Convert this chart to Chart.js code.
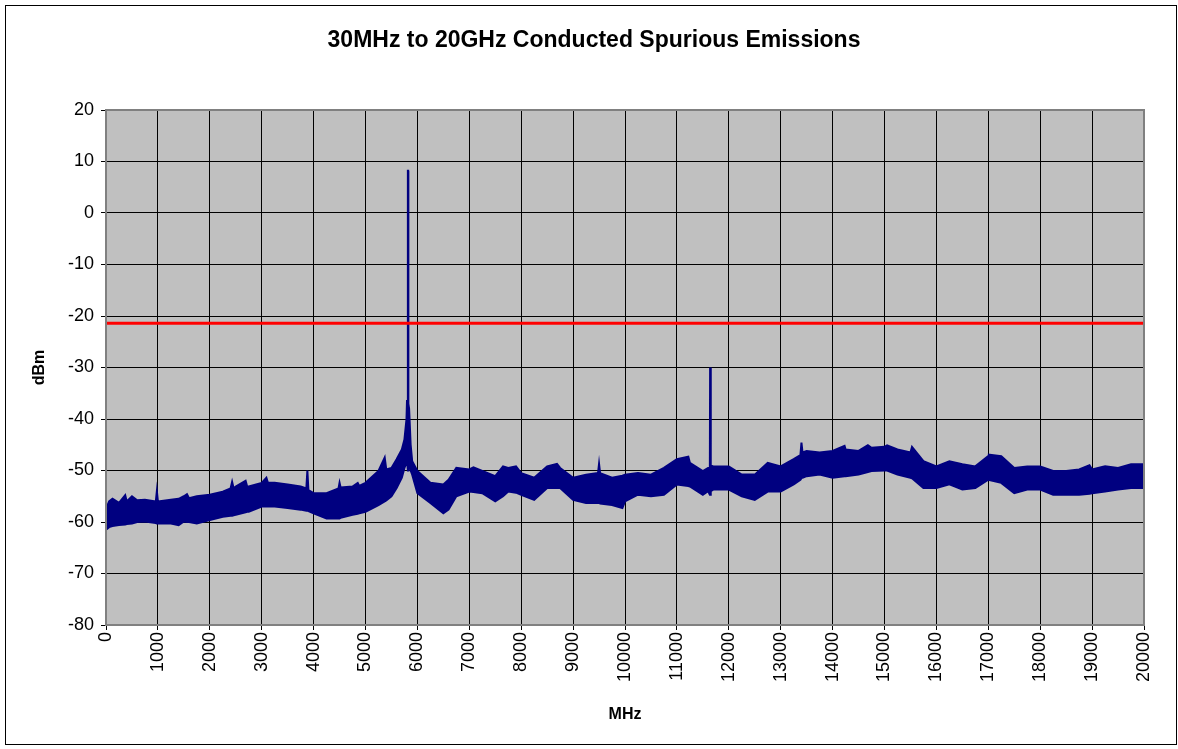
<!DOCTYPE html>
<html>
<head>
<meta charset="utf-8">
<script src="https://cdn.jsdelivr.net/npm/chart.js@4/dist/chart.umd.min.js"></script>
<style>
  html, body { margin: 0; padding: 0; background: #fff; }
  #wrap { width: 1178px; height: 749px; }
</style>
</head>
<body>
<div id="wrap"><canvas id="c" width="1178" height="749"></canvas></div>
<script>
// ---- data ----
const chartTitle = '30MHz to 20GHz Conducted Spurious Emissions';
const xTitle = 'MHz';
const yTitle = 'dBm';
const xTicks = [0,1000,2000,3000,4000,5000,6000,7000,8000,9000,10000,11000,12000,13000,14000,15000,16000,17000,18000,19000,20000];
const yTicks = [-80,-70,-60,-50,-40,-30,-20,-10,0,10,20];
const limitLevel = -21.4; // dBm, red limit line
const limitFreq = [0, 20000];

// trace envelope: frequency (MHz), upper and lower edge of the noisy trace (dBm)
const freqMHz = [0,60,125,250,370,400,500,600,750,960,980,1000,1250,1400,1500,1560,1600,1750,2000,2250,2400,2430,2460,2500,2690,2720,2750,3000,3090,3120,3250,3500,3750,3860,3880,3900,4000,4250,4480,4500,4520,4750,4850,4880,5000,5250,5370,5400,5500,5600,5700,5750,5790,5800,5815,5818,5822,5826,5840,5870,5900,6000,6250,6500,6600,6750,7000,7080,7250,7500,7650,7750,7900,8000,8250,8500,8690,8750,9000,9250,9480,9500,9520,9750,9950,10000,10250,10500,10750,11000,11220,11250,11500,11600,11635,11640,11650,11655,11700,12000,12250,12500,12750,13000,13250,13380,13400,13420,13500,13750,14000,14230,14250,14500,14680,14750,15000,15050,15250,15500,15530,15750,16000,16250,16500,16750,17000,17010,17250,17500,17750,18000,18250,18500,18750,18950,19000,19250,19500,19750,20000];
const traceUpper = [-57.5,-56.0,-55.5,-56.3,-54.8,-56.0,-55.0,-55.8,-55.7,-56.0,-54.0,-56.0,-55.7,-55.5,-55.0,-54.6,-55.4,-55.0,-54.7,-54.1,-53.5,-52.2,-53.5,-53.1,-52.0,-53.1,-53.1,-52.4,-51.4,-52.4,-52.4,-52.7,-53.1,-53.5,-50.0,-53.8,-54.4,-54.4,-53.5,-52.4,-53.3,-53.1,-52.4,-53.0,-52.4,-50.1,-47.5,-49.8,-49.5,-47.8,-45.9,-44.0,-40.0,-36.3,-37.5,8.2,8.2,-37.0,-38.0,-45.0,-48.2,-50.1,-52.4,-52.7,-51.8,-49.5,-49.8,-49.4,-50.1,-51.1,-49.2,-49.5,-49.2,-50.5,-51.4,-49.2,-48.7,-49.5,-51.4,-50.8,-50.5,-48.7,-50.5,-51.4,-51.0,-50.8,-50.5,-50.8,-49.5,-47.8,-47.3,-48.5,-50.1,-49.5,-49.5,-30.0,-30.0,-49.0,-49.2,-49.2,-50.8,-50.8,-48.5,-49.2,-47.8,-47.0,-44.6,-46.5,-46.2,-46.5,-46.2,-45.2,-45.9,-46.2,-45.1,-45.6,-45.4,-45.1,-45.9,-46.5,-45.4,-48.2,-49.2,-48.2,-48.8,-49.2,-47.2,-46.9,-47.2,-49.5,-49.2,-49.2,-50.1,-50.1,-49.8,-49.0,-49.8,-49.2,-49.5,-48.8,-48.8];
const traceLower = [-61.5,-61.0,-60.8,-60.6,-60.5,-60.4,-60.3,-60.0,-59.9,-60.2,-60.3,-60.3,-60.3,-60.6,-59.9,-60.0,-60.0,-60.3,-59.6,-59.0,-58.8,-58.8,-58.7,-58.6,-58.1,-58.0,-58.0,-57.0,-57.0,-57.0,-57.0,-57.3,-57.6,-57.8,-57.8,-57.9,-58.3,-59.3,-59.3,-59.3,-59.2,-58.6,-58.4,-58.3,-58.0,-56.7,-56.0,-55.8,-55.0,-53.4,-51.4,-49.5,-48.5,-48.0,-49.0,-50.0,-50.0,-49.5,-48.5,-50.0,-50.8,-54.4,-56.3,-58.3,-57.6,-55.0,-54.1,-54.2,-54.4,-56.0,-55.0,-54.1,-54.3,-54.7,-55.7,-53.4,-53.4,-53.4,-55.7,-56.3,-56.3,-56.3,-56.4,-56.7,-57.3,-56.0,-54.7,-55.0,-54.7,-52.7,-53.0,-53.1,-54.7,-54.0,-54.7,-54.7,-54.5,-54.0,-53.7,-53.7,-55.0,-55.7,-54.1,-54.1,-52.7,-51.8,-51.5,-51.4,-51.1,-50.8,-51.4,-51.1,-51.1,-50.8,-50.3,-50.1,-50.0,-50.0,-50.8,-51.4,-51.5,-53.4,-53.4,-52.7,-53.7,-53.4,-51.8,-51.8,-52.4,-54.4,-53.7,-53.7,-54.7,-54.7,-54.7,-54.5,-54.4,-54.1,-53.7,-53.4,-53.4];

// ---- build chart ----
const FONT = '"Liberation Sans", Arial, sans-serif';
const PLOT = { left: 106, right: 1144, top: 110, bottom: 625 };

const n = Math.min(freqMHz.length, traceUpper.length, traceLower.length);
const lowerPts = freqMHz.slice(0, n).map((f, i) => ({ x: f, y: traceLower[i] }));
const upperPts = freqMHz.slice(0, n).map((f, i) => ({ x: f, y: traceUpper[i] }));
const limitPts = limitFreq.map(f => ({ x: f, y: limitLevel }));

const framePlugin = {
  id: 'frame',
  beforeDraw(chart) {
    const { ctx, chartArea: a } = chart;
    ctx.save();
    ctx.fillStyle = '#ffffff';
    ctx.fillRect(0, 0, chart.width, chart.height);
    ctx.fillStyle = '#C0C0C0';
    ctx.fillRect(a.left, a.top, a.right - a.left, a.bottom - a.top);
    ctx.restore();
  },
  afterDraw(chart) {
    const { ctx, chartArea: a } = chart;
    ctx.save();
    ctx.strokeStyle = '#808080';
    ctx.lineWidth = 2;
    ctx.strokeRect(a.left, a.top, a.right - a.left, a.bottom - a.top);
    ctx.strokeStyle = '#000000';
    ctx.lineWidth = 1;
    ctx.strokeRect(5.5, 5.5, 1171, 739);
    ctx.fillStyle = '#000000';
    ctx.font = 'bold 23px ' + FONT;
    ctx.textAlign = 'center';
    ctx.textBaseline = 'middle';
    ctx.fillText(chartTitle, 594, 41);
    ctx.restore();
  }
};

new Chart(document.getElementById('c'), {
  type: 'line',
  data: {
    datasets: [
      { label: 'lower', data: lowerPts, borderColor: '#000080', borderWidth: 2, pointRadius: 0, fill: false, tension: 0, order: 2 },
      { label: 'upper', data: upperPts, borderColor: '#000080', borderWidth: 2, pointRadius: 0, fill: '-1', backgroundColor: '#000080', tension: 0, order: 2 },
      { label: 'limit', data: limitPts, borderColor: '#FF0000', borderWidth: 3, pointRadius: 0, fill: false, order: 1 }
    ]
  },
  options: {
    responsive: false,
    animation: false,
    events: [],
    layout: { padding: { left: 20, right: 1178 - PLOT.right, top: PLOT.top, bottom: 20 } },
    plugins: { legend: { display: false }, tooltip: { enabled: false }, title: { display: false } },
    scales: {
      x: {
        type: 'linear', min: 0, max: 20000,
        afterBuildTicks(s) { s.ticks = xTicks.map(v => ({ value: v })); },
        afterFit(s) { s.height = 729 - PLOT.bottom; },
        border: { display: false },
        grid: { color: '#000000', lineWidth: 1, drawTicks: true, tickLength: 5, tickColor: '#000000' },
        ticks: { autoSkip: false, minRotation: 90, maxRotation: 90, padding: 2, color: '#000000', font: { family: FONT, size: 18 }, callback: v => String(v) },
        title: { display: true, text: xTitle, color: '#000000', font: { family: FONT, size: 16, weight: 'bold' }, padding: { top: 0, bottom: 5 } }
      },
      y: {
        type: 'linear', min: -80, max: 20,
        afterBuildTicks(s) { s.ticks = yTicks.map(v => ({ value: v })); },
        afterFit(s) { s.width = PLOT.left - 20; },
        border: { display: false },
        grid: { color: '#000000', lineWidth: 1, drawTicks: true, tickLength: 5, tickColor: '#000000' },
        ticks: { padding: 7, color: '#000000', font: { family: FONT, size: 18 }, callback: v => String(v) },
        title: { display: true, text: yTitle, color: '#000000', font: { family: FONT, size: 16, weight: 'bold' }, padding: { top: 10, bottom: 0 } }
      }
    }
  },
  plugins: [framePlugin]
});
</script>
</body>
</html>
